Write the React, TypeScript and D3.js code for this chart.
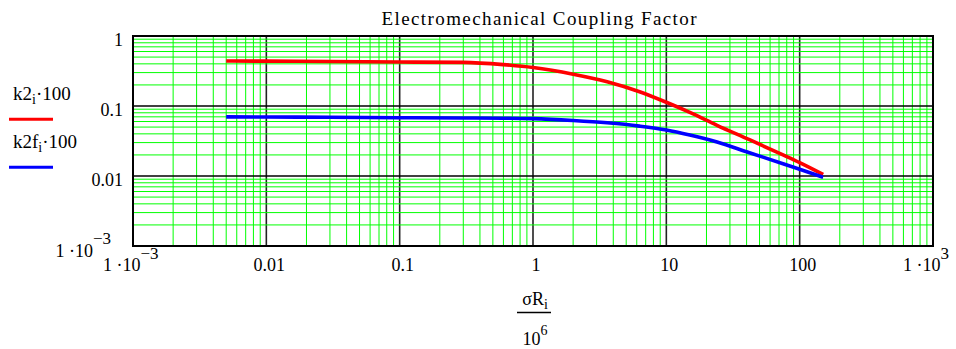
import React from "react";
import * as d3 from "d3";

// ---- data ----
const sigmaR: number[] = [0.005, 0.01, 0.03, 0.1, 0.3, 0.6, 1, 2, 3.6, 6.3, 10, 15, 24, 42, 75, 100, 150];
const k2: number[] = [0.44, 0.437, 0.432, 0.425, 0.42, 0.39, 0.355, 0.285, 0.222, 0.16, 0.113, 0.081, 0.053, 0.033, 0.020, 0.0155, 0.0105];
const k2f: number[] = [0.070, 0.0695, 0.069, 0.068, 0.0675, 0.067, 0.066, 0.062, 0.0575, 0.0516, 0.0455, 0.0385, 0.0305, 0.0215, 0.015, 0.0125, 0.0096];

const xTicks: number[] = [1e-3, 0.01, 0.1, 1, 10, 100, 1e3];
const yTicks: number[] = [1e-3, 0.01, 0.1, 1];
const titleText = "Electromechanical Coupling Factor";

const W = 956;
const H = 349;
const L = 133, R = 933, T = 36, B = 246;
const FONT = "'Liberation Serif', 'Times New Roman', serif";

const x = d3.scaleLog().domain([1e-3, 1e3]).range([L, R]);
const y = d3.scaleLog().domain([1e-3, 1]).range([B, T]);

function labelParts(v: number): { base: string; sup?: string } {
  if (v === 1e-3) return { base: "1 \u00B710", sup: "\u22123" };
  if (v === 1e3) return { base: "1 \u00B710", sup: "3" };
  return { base: String(v) };
}

export default function App() {
  const minorX: number[] = [];
  const minorY: number[] = [];
  for (let e = -3; e < 3; e++) for (let k = 2; k <= 9; k++) minorX.push(k * Math.pow(10, e));
  for (let e = -3; e < 0; e++) for (let k = 2; k <= 9; k++) minorY.push(k * Math.pow(10, e));
  const majorX = xTicks.slice(1, -1);
  const majorY = yTicks.slice(1, -1);

  const line = d3
    .line<number>()
    .x((_, i) => x(sigmaR[i]))
    .y((d) => y(d))
    .curve(d3.curveMonotoneX);

  return (
    <svg
      width={W}
      height={H}
      style={{ position: "absolute", left: 0, top: 0, background: "#fff" }}
      fontFamily={FONT}
    >
      {/* vertical major grid */}
      {majorX.map((v) => (
        <line key={"vx" + v} x1={x(v)} x2={x(v)} y1={T} y2={B} stroke="#222" strokeWidth={1.6} />
      ))}
      {/* minor grid */}
      {minorY.map((v) => (
        <line key={"my" + v} x1={L} x2={R} y1={y(v)} y2={y(v)} stroke="#00ff00" strokeWidth={1} />
      ))}
      {minorX.map((v) => (
        <line key={"mx" + v} x1={x(v)} x2={x(v)} y1={T} y2={B} stroke="#00ff00" strokeWidth={1} />
      ))}
      {/* horizontal major grid */}
      {majorY.map((v) => (
        <line key={"hy" + v} x1={L} x2={R} y1={y(v)} y2={y(v)} stroke="#000" strokeWidth={1.6} />
      ))}
      {/* frame */}
      <rect x={L} y={T} width={R - L} height={B - T} fill="none" stroke="#000" strokeWidth={2} />

      {/* series */}
      <path d={line(k2) || ""} fill="none" stroke="#ff0000" strokeWidth={3.6} strokeLinejoin="round" />
      <path d={line(k2f) || ""} fill="none" stroke="#0000ff" strokeWidth={3.6} strokeLinejoin="round" />

      {/* title */}
      <text x={539} y={25} textAnchor="middle" fontSize={19} textLength={315} lengthAdjust="spacing">
        {titleText}
      </text>

      {/* y tick labels */}
      {yTicks.map((v) => {
        const p = labelParts(v);
        if (p.sup) {
          return (
            <text key={"yl" + v} x={111} y={y(v) + 11} textAnchor="end" fontSize={18}>
              {p.base}
              <tspan fontSize={17} dy={-13}>{p.sup}</tspan>
            </text>
          );
        }
        return (
          <text key={"yl" + v} x={123} y={y(v) + 9.5} textAnchor="end" fontSize={18}>
            {p.base}
          </text>
        );
      })}

      {/* x tick labels */}
      {xTicks.map((v) => {
        const p = labelParts(v);
        if (p.sup) {
          const start = Math.min(x(v) - 30, W - 48);
          return (
            <text key={"xl" + v} x={start} y={271} fontSize={18}>
              {p.base}
              <tspan fontSize={17} dy={-12}>{p.sup}</tspan>
            </text>
          );
        }
        return (
          <text key={"xl" + v} x={x(v) + 3} y={271} textAnchor="middle" fontSize={18}>
            {p.base}
          </text>
        );
      })}

      {/* x axis title: sigma R_i / 10^6 */}
      <text x={535} y={305} textAnchor="middle" fontSize={18}>
        σR<tspan fontSize={14} dy={4}>i</tspan>
      </text>
      <line x1={517} x2={551} y1={312.5} y2={312.5} stroke="#000" strokeWidth={1.5} />
      <text x={535} y={345} textAnchor="middle" fontSize={18}>
        10<tspan fontSize={14} dy={-10}>6</tspan>
      </text>

      {/* legend */}
      <text x={13} y={100} fontSize={19}>
        k2<tspan fontSize={14} dy={4}>i</tspan>
        <tspan dy={-4}>·100</tspan>
      </text>
      <line x1={9} x2={53} y1={119.3} y2={119.3} stroke="#ff0000" strokeWidth={3} />
      <text x={13} y={148} fontSize={19}>
        k2f<tspan fontSize={14} dy={4}>i</tspan>
        <tspan dy={-4}>·100</tspan>
      </text>
      <line x1={9} x2={53} y1={167.3} y2={167.3} stroke="#0000ff" strokeWidth={3} />
    </svg>
  );
}
